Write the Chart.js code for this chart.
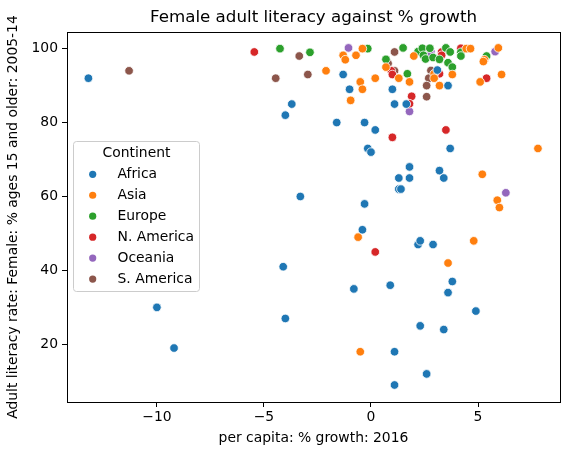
<!DOCTYPE html>
<html>
<head>
<meta charset="utf-8">
<script src="https://cdn.jsdelivr.net/npm/chart.js@4.4.1/dist/chart.umd.min.js"></script>
<style>
  html, body { margin: 0; padding: 0; background: #fff; }
  #wrap { width: 571px; height: 455px; }
</style>
</head>
<body>
<div id="wrap"><canvas id="chart"></canvas></div>
<script>
// values, [growth %, literacy %]
var continents = ['Africa', 'Asia', 'Europe', 'N. America', 'Oceania', 'S. America'];
var colors = ['#1f77b4', '#ff7f0e', '#2ca02c', '#d62728', '#9467bd', '#8c564b'];

var africa = [
    [-13.2, 92], [-3.7, 85], [-4.0, 82], [-1.6, 80], [-1.3, 93], [-1.0, 89], [1.0, 89], [1.1, 85],
    [1.65, 85], [3.6, 90], [3.1, 94.2], [-0.3, 80], [0.2, 78], [-0.15, 73], [0.0, 72], [1.8, 68],
    [1.3, 65], [1.8, 65], [3.2, 67], [3.4, 65], [3.7, 73], [1.3, 62], [1.4, 62], [-3.3, 60],
    [-0.3, 58], [-0.4, 51], [2.2, 47], [2.3, 48], [2.9, 47], [-4.1, 41], [3.8, 37], [3.6, 34],
    [-0.8, 35], [0.9, 36], [-10.0, 30], [4.9, 29], [-4.0, 27], [2.3, 25], [3.4, 24], [-9.2, 19],
    [1.1, 18], [2.6, 12], [1.1, 9]
];
var asia = [
    [-1.3, 98.2], [-1.2, 97], [-0.4, 100], [-0.7, 98.2], [-2.1, 94], [-0.5, 91], [-0.4, 89], [0.2, 92],
    [-0.95, 86], [2.0, 98], [0.7, 95], [1.3, 92], [1.8, 91], [2.95, 93.2], [2.95, 92], [3.2, 90],
    [3.8, 93], [4.45, 100], [4.65, 100], [5.95, 100.2], [5.3, 97], [5.25, 96.5], [6.1, 93], [5.1, 91],
    [7.8, 73], [5.2, 66], [5.9, 59], [6.0, 57], [-0.6, 49], [4.8, 48], [3.6, 42], [-0.5, 18]
];
var europe = [
    [-4.25, 100], [-2.85, 99], [-0.15, 100], [1.5, 100.2], [0.7, 97.1], [1.7, 93.2], [2.2, 99.2],
    [2.4, 100.1], [2.45, 98.2], [2.75, 100.1], [2.55, 97.2], [2.9, 97.6], [3.2, 97.1], [3.5, 100.2],
    [3.7, 99.1], [3.6, 96.2], [3.8, 95], [4.2, 99], [4.2, 98], [5.4, 98]
];
var nAmerica = [
    [-5.45, 99.1], [0.95, 94], [1.0, 93], [1.9, 87.1], [1.8, 85.1], [3.3, 99.1], [3.3, 98.2],
    [3.2, 93.2], [4.2, 100.1], [5.4, 92], [1.0, 76], [3.5, 78], [0.2, 45]
];
var oceania = [
    [-1.05, 100.2], [2.8, 99.1], [2.8, 98.2], [5.8, 99.2], [1.8, 83], [6.3, 61]
];
var sAmerica = [
    [-11.3, 94], [-3.35, 98], [-4.45, 92], [-2.95, 93], [1.1, 99.1], [0.8, 96], [1.1, 94],
    [2.8, 94.1], [2.7, 92], [2.6, 90], [2.6, 87]
];
var xTicks = [-10, -5, 0, 5];
var yTicks = [20, 40, 60, 80, 100];

var groups = [africa, asia, europe, nAmerica, oceania, sAmerica];
var FONT = "'DejaVu Sans', sans-serif";

var datasets = groups.map(function (pts, i) {
    return {
        label: continents[i],
        data: pts.map(function (p) { return { x: p[0], y: p[1] }; }),
        backgroundColor: colors[i],
        borderColor: '#ffffff',
        borderWidth: 0.8,
        pointRadius: 4.3,
        pointHoverRadius: 4.3
    };
});

function minus(v) {
    return String(v).replace('-', '\u2212');
}

// frame, title and legend the way matplotlib draws them
var decor = {
    id: 'decor',
    afterDraw: function (chart) {
        var ctx = chart.ctx;
        var a = chart.chartArea;
        ctx.save();
        ctx.strokeStyle = '#000';
        ctx.lineWidth = 1;
        ctx.strokeRect(Math.round(a.left) + 0.5, Math.round(a.top) + 0.5,
            Math.round(a.right - a.left), Math.round(a.bottom - a.top));

        ctx.fillStyle = '#000';
        ctx.font = '16.7px ' + FONT;
        ctx.textAlign = 'center';
        ctx.textBaseline = 'middle';
        ctx.fillText('Female adult literacy against % growth', (a.left + a.right) / 2, 18);

        // legend box
        var bx = 73.5, by = 141.5, bw = 126, bh = 150, r = 3;
        ctx.beginPath();
        ctx.moveTo(bx + r, by);
        ctx.arcTo(bx + bw, by, bx + bw, by + bh, r);
        ctx.arcTo(bx + bw, by + bh, bx, by + bh, r);
        ctx.arcTo(bx, by + bh, bx, by, r);
        ctx.arcTo(bx, by, bx + bw, by, r);
        ctx.closePath();
        ctx.fillStyle = 'rgba(255,255,255,0.8)';
        ctx.fill();
        ctx.strokeStyle = '#cccccc';
        ctx.stroke();

        ctx.font = '13.9px ' + FONT;
        ctx.fillStyle = '#000';
        ctx.textAlign = 'center';
        ctx.fillText('Continent', 136.5, 153.5);
        ctx.textAlign = 'left';
        chart.data.datasets.forEach(function (ds, i) {
            var yy = 174.3 + i * 20.95;
            ctx.beginPath();
            ctx.arc(92.7, yy, 3.6, 0, Math.PI * 2);
            ctx.fillStyle = ds.backgroundColor;
            ctx.fill();
            ctx.fillStyle = '#000';
            ctx.fillText(ds.label, 117.5, yy);
        });
        ctx.restore();
    }
};

new Chart(document.getElementById('chart'), {
    type: 'scatter',
    data: { datasets: datasets },
    options: {
        responsive: true,
        maintainAspectRatio: false,
        animation: false,
        layout: { padding: { top: 32, right: 11, left: 0, bottom: 0 } },
        plugins: {
            legend: { display: false },
            title: { display: false },
            tooltip: { enabled: false }
        },
        scales: {
            x: {
                type: 'linear',
                min: -14.2,
                max: 8.83,
                afterFit: function (s) { s.height = 53; },
                afterBuildTicks: function (s) {
                    s.ticks = xTicks.map(function (v) { return { value: v }; });
                },
                grid: { drawOnChartArea: false, drawTicks: true, tickLength: 5, color: '#000' },
                border: { display: false },
                ticks: {
                    color: '#000',
                    font: { family: FONT, size: 13.9 },
                    padding: 2,
                    maxRotation: 0,
                    callback: function (v) { return minus(v); }
                },
                title: {
                    display: true,
                    text: 'per capita: % growth: 2016',
                    color: '#000',
                    font: { family: FONT, size: 13.9 },
                    padding: { top: 0, bottom: 8 }
                }
            },
            y: {
                type: 'linear',
                min: 4.4,
                max: 104.5,
                afterFit: function (s) { s.width = 67; },
                afterBuildTicks: function (s) {
                    s.ticks = yTicks.map(function (v) { return { value: v }; });
                },
                grid: { drawOnChartArea: false, drawTicks: true, tickLength: 5, color: '#000' },
                border: { display: false },
                ticks: {
                    color: '#000',
                    font: { family: FONT, size: 13.9 },
                    padding: 4,
                    callback: function (v) { return minus(v); }
                },
                title: {
                    display: true,
                    text: 'Adult literacy rate: Female: % ages 15 and older: 2005-14',
                    color: '#000',
                    font: { family: FONT, size: 13.9 },
                    padding: { top: 5, bottom: 0 }
                }
            }
        }
    },
    plugins: [decor]
});
</script>
</body>
</html>
